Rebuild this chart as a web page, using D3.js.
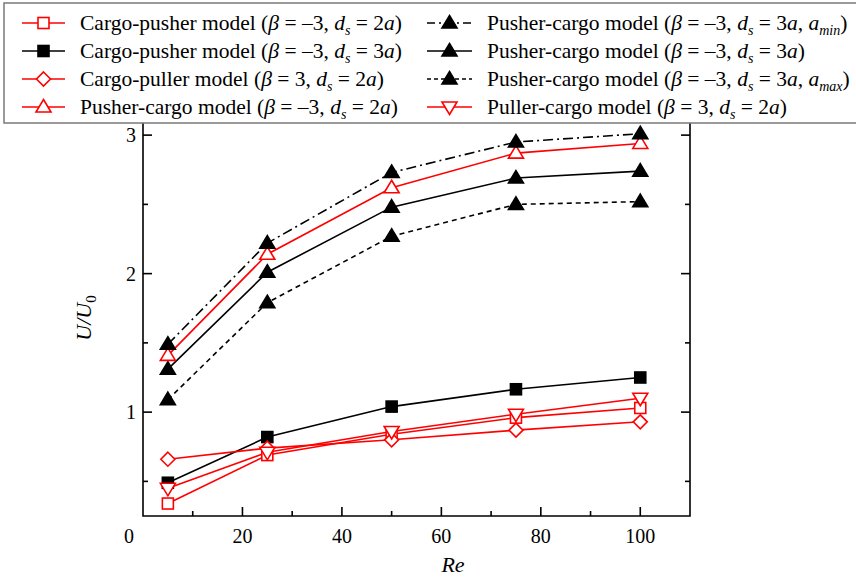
<!DOCTYPE html>
<html><head><meta charset="utf-8">
<script src="https://cdn.jsdelivr.net/npm/d3@7"></script>
<style>body{margin:0;background:#fff}svg{display:block}</style>
</head><body><svg id="c" width="856" height="577"></svg>
<script>
const re = [5, 25, 50, 75, 100];
const cargoPusher2a = [0.34, 0.69, 0.84, 0.96, 1.03];
const cargoPusher3a = [0.49, 0.82, 1.04, 1.165, 1.25];
const cargoPuller2a = [0.66, 0.74, 0.80, 0.87, 0.93];
const pusherCargo2a = [1.41, 2.14, 2.62, 2.87, 2.94];
const pusherCargoMin = [1.49, 2.22, 2.73, 2.95, 3.01];
const pusherCargo3a = [1.31, 2.01, 2.48, 2.69, 2.74];
const pusherCargoMax = [1.09, 1.79, 2.27, 2.50, 2.52];
const pullerCargo2a = [0.45, 0.71, 0.86, 0.985, 1.10];
const xTicks = [0, 20, 40, 60, 80, 100];
const xMinor = [10, 30, 50, 70, 90];
const yTicks = [1, 2, 3];
const yMinor = [0.5, 1.5, 2.5];

const RED = "#ff0000", BLK = "#000000";
const series = [
  {v: cargoPusher2a, c: RED, m: "square", fill: false, dash: null},
  {v: cargoPusher3a, c: BLK, m: "square", fill: true, dash: null},
  {v: cargoPuller2a, c: RED, m: "diamond", fill: false, dash: null},
  {v: pullerCargo2a, c: RED, m: "down", fill: false, dash: null},
  {v: pusherCargoMax, c: BLK, m: "up", fill: true, dash: "5,4"},
  {v: pusherCargo3a, c: BLK, m: "up", fill: true, dash: null},
  {v: pusherCargo2a, c: RED, m: "up", fill: false, dash: null},
  {v: pusherCargoMin, c: BLK, m: "up", fill: true, dash: "10,4,2,4"}
];

const svg = d3.select("#c");
const FONT = "'Liberation Serif','Times New Roman',serif";
const x = d3.scaleLinear([0, 110], [143, 690]);
const y = d3.scaleLinear([0.25, 3.25], [516, 100.5]);

function marker(g, type, cx, cy, color, fill) {
  let el;
  if (type === "square") {
    el = g.append("rect").attr("x", cx - 5.5).attr("y", cy - 5.5).attr("width", 11).attr("height", 11);
  } else if (type === "diamond") {
    el = g.append("path").attr("d", `M${cx},${cy-7}L${cx+7},${cy}L${cx},${cy+7}L${cx-7},${cy}Z`);
  } else if (type === "up") {
    el = g.append("path").attr("d", `M${cx},${cy-7.5}L${cx+7.5},${cy+5}L${cx-7.5},${cy+5}Z`);
  } else {
    el = g.append("path").attr("d", `M${cx},${cy+7.5}L${cx+7.5},${cy-5}L${cx-7.5},${cy-5}Z`);
  }
  el.attr("fill", fill ? color : "#fff").attr("stroke", color).attr("stroke-width", 1.6);
}

// frame
const ax = svg.append("g").attr("stroke", "#000").attr("stroke-width", 1.6).attr("fill", "none");
ax.append("path").attr("d", `M${x(0)},${y(3.25)}V${y(0.25)}H${x(110)}V${y(3.25)}`);
yTicks.forEach(t => {
  ax.append("line").attr("x1", x(0)).attr("x2", x(0) + 9).attr("y1", y(t)).attr("y2", y(t));
  ax.append("line").attr("x1", x(110)).attr("x2", x(110) - 9).attr("y1", y(t)).attr("y2", y(t));
});
yMinor.forEach(t => {
  ax.append("line").attr("x1", x(0)).attr("x2", x(0) + 5).attr("y1", y(t)).attr("y2", y(t));
  ax.append("line").attr("x1", x(110)).attr("x2", x(110) - 5).attr("y1", y(t)).attr("y2", y(t));
});
xTicks.filter(t => t > 0).forEach(t => {
  ax.append("line").attr("x1", x(t)).attr("x2", x(t)).attr("y1", y(0.25)).attr("y2", y(0.25) - 9);
});
xMinor.forEach(t => {
  ax.append("line").attr("x1", x(t)).attr("x2", x(t)).attr("y1", y(0.25)).attr("y2", y(0.25) - 5);
});
const tl = svg.append("g").attr("font-family", FONT).attr("font-size", 20).attr("fill", "#000");
yTicks.forEach(t => {
  tl.append("text").attr("x", x(0) - 7).attr("y", y(t) + 7).attr("text-anchor", "end").text(t);
});
xTicks.forEach(t => {
  tl.append("text").attr("x", x(t) - (t === 0 ? 14 : 0)).attr("y", 543).attr("text-anchor", "middle").text(t);
});
svg.append("text").attr("x", 453).attr("y", 572).attr("text-anchor", "middle")
  .attr("font-family", FONT).attr("font-size", 22).attr("font-style", "italic").text("Re");
const yl = svg.append("text").attr("transform", "translate(91,318) rotate(-90)").attr("text-anchor", "middle")
  .attr("font-family", FONT).attr("font-size", 22);
yl.append("tspan").attr("font-style", "italic").text("U/U");
yl.append("tspan").attr("font-size", 15).attr("dy", 5).text("0");

// series
const line = d3.line().x((d, i) => x(re[i])).y(d => y(d));
const sg = svg.append("g");
series.forEach(s => {
  sg.append("path").attr("d", line(s.v)).attr("fill", "none").attr("stroke", s.c).attr("stroke-width", 1.6)
    .attr("stroke-dasharray", s.dash);
});
series.forEach(s => {
  s.v.forEach((v, i) => marker(sg, s.m, x(re[i]), y(v), s.c, s.fill));
});

// legend
const lg = svg.append("g");
lg.append("rect").attr("x", 4).attr("y", 3).attr("width", 900).attr("height", 120)
  .attr("fill", "#fff").attr("stroke", "#7a7a7a").attr("stroke-width", 1.5);
const I = (t) => ({t, it: true});
const N = (t) => ({t});
const S = (t) => ({t, it: true, sub: true});
const legendItems = [
  {col: 0, row: 0, c: RED, m: "square", fill: false, dash: null,
   txt: [N("Cargo-pusher model ("), I("β"), N(" = –3, "), I("d"), S("s"), N(" = 2"), I("a"), N(")")]},
  {col: 0, row: 1, c: BLK, m: "square", fill: true, dash: null,
   txt: [N("Cargo-pusher model ("), I("β"), N(" = –3, "), I("d"), S("s"), N(" = 3"), I("a"), N(")")]},
  {col: 0, row: 2, c: RED, m: "diamond", fill: false, dash: null,
   txt: [N("Cargo-puller model ("), I("β"), N(" = 3, "), I("d"), S("s"), N(" = 2"), I("a"), N(")")]},
  {col: 0, row: 3, c: RED, m: "up", fill: false, dash: null,
   txt: [N("Pusher-cargo model ("), I("β"), N(" = –3, "), I("d"), S("s"), N(" = 2"), I("a"), N(")")]},
  {col: 1, row: 0, c: BLK, m: "up", fill: true, dash: "8,4,2,4",
   txt: [N("Pusher-cargo model ("), I("β"), N(" = –3, "), I("d"), S("s"), N(" = 3"), I("a"), N(", "), I("a"), S("min"), N(")")]},
  {col: 1, row: 1, c: BLK, m: "up", fill: true, dash: null,
   txt: [N("Pusher-cargo model ("), I("β"), N(" = –3, "), I("d"), S("s"), N(" = 3"), I("a"), N(")")]},
  {col: 1, row: 2, c: BLK, m: "up", fill: true, dash: "4,3",
   txt: [N("Pusher-cargo model ("), I("β"), N(" = –3, "), I("d"), S("s"), N(" = 3"), I("a"), N(", "), I("a"), S("max"), N(")")]},
  {col: 1, row: 3, c: RED, m: "down", fill: false, dash: null,
   txt: [N("Puller-cargo model ("), I("β"), N(" = 3, "), I("d"), S("s"), N(" = 2"), I("a"), N(")")]}
];
const colX = [[22, 65, 80], [427, 472, 487]];
const rowY = [23, 51, 79, 107];
legendItems.forEach(it => {
  const [x1, x2, tx] = colX[it.col];
  const yy = rowY[it.row];
  lg.append("line").attr("x1", x1).attr("x2", x2).attr("y1", yy).attr("y2", yy)
    .attr("stroke", it.c).attr("stroke-width", 1.6).attr("stroke-dasharray", it.dash);
  marker(lg, it.m, (x1 + x2) / 2, yy, it.c, it.fill);
  const t = lg.append("text").attr("x", tx).attr("y", yy + 7).attr("font-family", FONT).attr("font-size", 21.5);
  let prevSub = false;
  it.txt.forEach(seg => {
    const ts = t.append("tspan").text(seg.t);
    if (seg.it) ts.attr("font-style", "italic");
    if (seg.sub) ts.attr("font-size", 14);
    if (seg.sub && !prevSub) ts.attr("dy", 5);
    else if (!seg.sub && prevSub) ts.attr("dy", -5);
    prevSub = !!seg.sub;
  });
});
</script></body></html>
